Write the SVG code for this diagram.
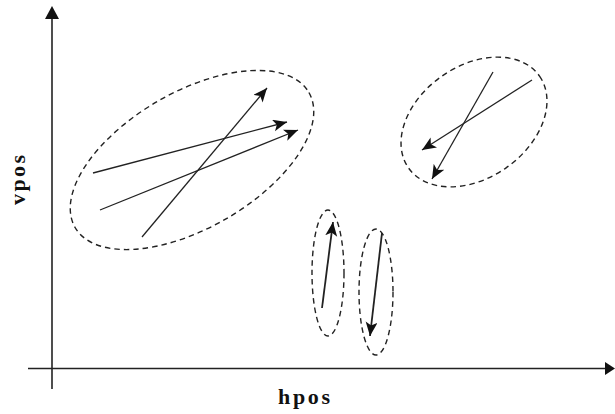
<svg xmlns="http://www.w3.org/2000/svg" width="615" height="414" viewBox="0 0 615 414">
<style>
.axis{stroke:#222;stroke-width:1.6;fill:none}
.cl{fill:none;stroke:#222;stroke-width:1.4;stroke-dasharray:5.5 4}
.ar{stroke:#222;stroke-width:1.3;fill:none;marker-end:url(#ah)}
.ar2{stroke:#222;stroke-width:1.8;fill:none;marker-end:url(#ah)}
.lab{font-family:"Liberation Serif","Times New Roman",serif;font-weight:bold;font-size:22px;fill:#111}
</style>
<defs>
<marker id="ah" markerUnits="userSpaceOnUse" markerWidth="15" markerHeight="13" refX="14" refY="6" orient="auto">
<path d="M0,0 L14,6 L0,12 L3.5,6 z" fill="#111"/>
</marker>
</defs>
<rect width="615" height="414" fill="#fff"/>
<g id="axes">
<line class="axis" x1="52" y1="18" x2="52" y2="389"/>
<path d="M52,6 L45,19 L59,19 z" fill="#111"/>
<line class="axis" x1="28" y1="368.5" x2="606" y2="368.5"/>
<path d="M615,368.5 L605,362 L605,375 z" fill="#111"/>
<text class="lab" x="25" y="180" text-anchor="middle" transform="rotate(-90 25 180)" textLength="50" lengthAdjust="spacing">vpos</text>
<text class="lab" x="278" y="404" textLength="52" lengthAdjust="spacing">hpos</text>
</g>
<g id="cluster-left">
<ellipse class="cl" cx="192" cy="160" rx="135" ry="68" transform="rotate(-30 192 160)"/>
</g>
<g id="cluster-right">
<ellipse class="cl" cx="474" cy="122" rx="80" ry="56" transform="rotate(-35 474 122)"/>
</g>
<g id="cluster-up">
<ellipse class="cl" cx="328" cy="273" rx="16" ry="63"/>
</g>
<g id="cluster-down">
<ellipse class="cl" cx="376" cy="292" rx="17" ry="63"/>
</g>
<g id="connectors">
<line class="ar" x1="142" y1="237" x2="267" y2="88"/>
<line class="ar" x1="93" y1="173" x2="287" y2="122"/>
<line class="ar" x1="100" y1="210" x2="298" y2="130"/>
<line class="ar" x1="493" y1="72" x2="432" y2="179"/>
<line class="ar" x1="532" y1="80" x2="422" y2="150"/>
<line class="ar2" x1="322" y1="308" x2="333" y2="222"/>
<line class="ar2" x1="382" y1="233" x2="370" y2="336"/>
</g>
</svg>
